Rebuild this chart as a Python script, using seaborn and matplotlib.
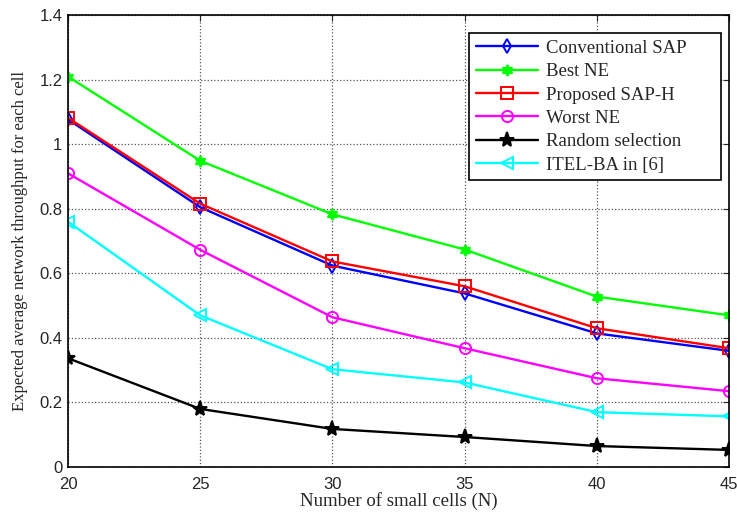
import matplotlib
matplotlib.use("Agg")
import matplotlib.pyplot as plt
import seaborn as sns
import pandas as pd

N = [20, 25, 30, 35, 40, 45]
conventional_sap = [1.077, 0.805, 0.624, 0.538, 0.414, 0.360]
best_ne = [1.210, 0.949, 0.783, 0.674, 0.528, 0.470]
proposed_sap_h = [1.082, 0.816, 0.637, 0.560, 0.430, 0.368]
worst_ne = [0.910, 0.673, 0.464, 0.368, 0.275, 0.235]
random_selection = [0.337, 0.180, 0.118, 0.093, 0.065, 0.053]
itel_ba = [0.760, 0.470, 0.303, 0.262, 0.170, 0.157]

labels = ["Conventional SAP", "Best NE", "Proposed SAP-H", "Worst NE",
          "Random selection", "ITEL-BA in [6]"]
series = [conventional_sap, best_ne, proposed_sap_h, worst_ne, random_selection, itel_ba]
colors = ["#0000ff", "#00ff00", "#ff0000", "#ff00ff", "#000000", "#00ffff"]
markers = ["d", (6, 1, 0), "s", "o", "*", "<"]
fills = ["none", "#00ff00", "none", "none", "#000000", "none"]
msizes = [7, 8, 8, 8, 11, 8]

rows = []
for lab, vals in zip(labels, series):
    for x, v in zip(N, vals):
        rows.append({"N": x, "val": v, "series": lab})
df = pd.DataFrame(rows)

sns.set_style("white")
plt.rcParams["font.family"] = ["Liberation Serif", "DejaVu Serif"]

fig = plt.figure(figsize=(7.37, 5.14), dpi=100)
ax = fig.add_axes([0.0923, 0.0914, 0.897, 0.879])

for lab, c, m, f, ms in zip(labels, colors, markers, fills, msizes):
    sub = df[df["series"] == lab]
    sns.lineplot(data=sub, x="N", y="val", ax=ax, color=c, marker=m,
                 markerfacecolor=f, markeredgecolor=c, markeredgewidth=1.4,
                 markersize=ms, linewidth=1.7, label=lab)

ax.set_xlim(20, 45)
ax.set_ylim(0, 1.4)
ax.set_xticks(N)
ax.set_yticks([0, 0.2, 0.4, 0.6, 0.8, 1.0, 1.2, 1.4])
ax.set_yticklabels(["0", "0.2", "0.4", "0.6", "0.8", "1", "1.2", "1.4"])
for t in ax.get_xticklabels() + ax.get_yticklabels():
    t.set_fontfamily("Liberation Sans")
    t.set_fontsize(12)
ax.tick_params(direction="in", top=True, right=True, length=4, width=0.8)
ax.tick_params(axis="x", pad=7)
ax.tick_params(axis="y", pad=4)
ax.grid(True, color="#555555", linestyle=":", linewidth=0.9)
for s in ax.spines.values():
    s.set_color("black")
    s.set_linewidth(1.2)

ax.set_xlabel("Number of small cells (N)", fontsize=13.5, labelpad=0)
ax.set_ylabel("Expected average network throughput for each cell", fontsize=12, labelpad=8)

leg = ax.legend(loc="upper left", bbox_to_anchor=(0.607, 0.5, 0.380, 0.460),
                mode="expand", fontsize=13.5,
                frameon=True, fancybox=False, edgecolor="black", framealpha=1,
                handlelength=3.3, handletextpad=0.45, borderpad=0.35,
                labelspacing=0.33, borderaxespad=0)
leg.get_frame().set_linewidth(1.2)

fig.savefig("out.png", dpi=100)
